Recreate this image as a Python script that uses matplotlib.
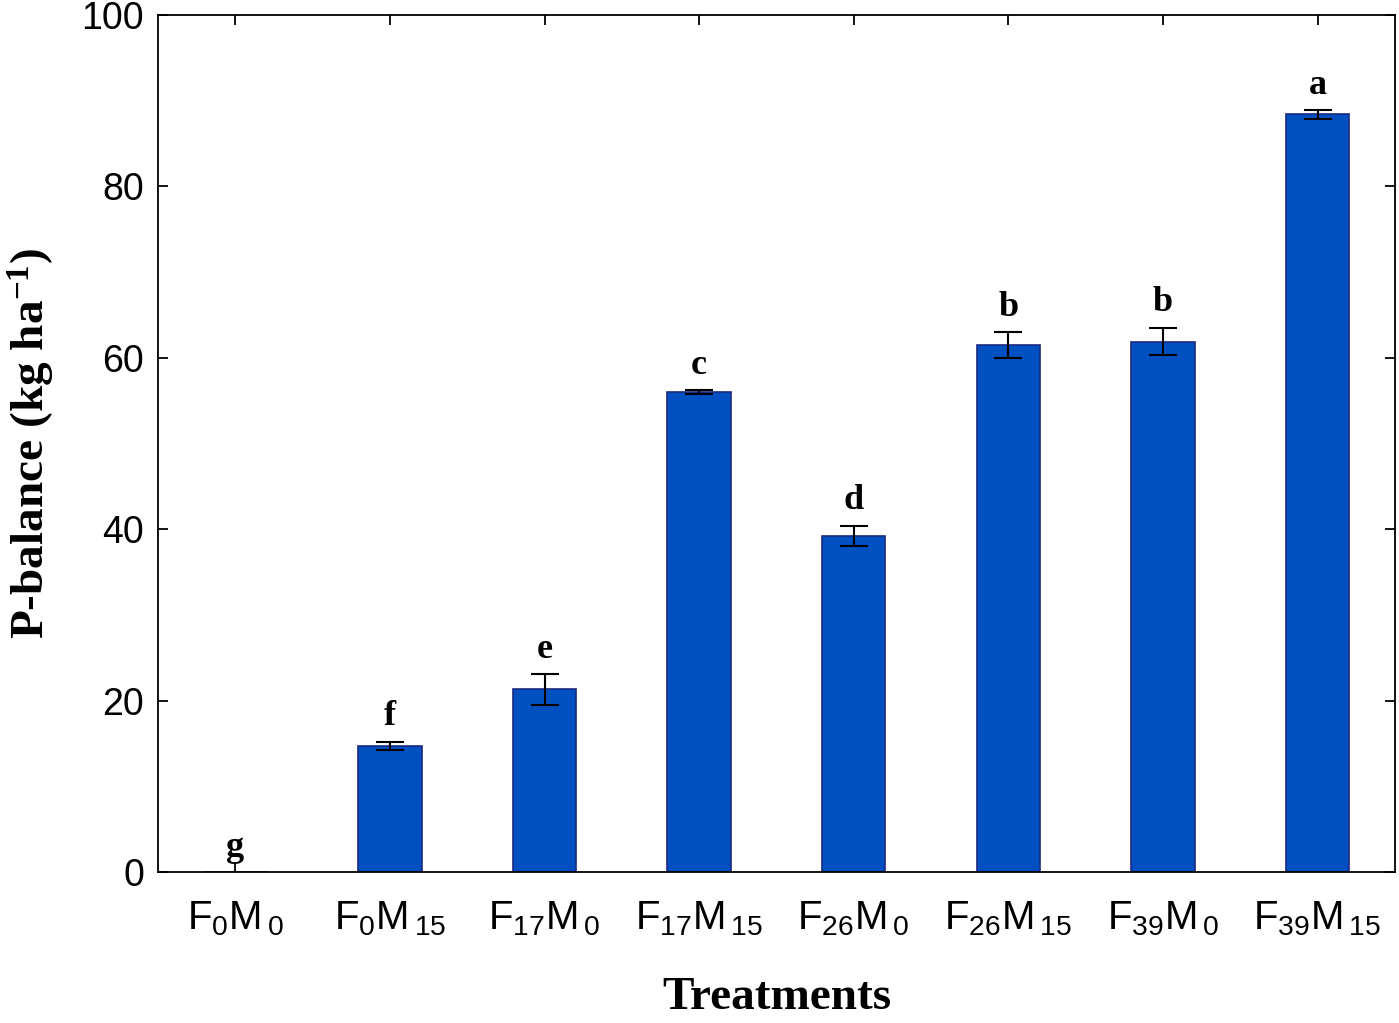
import matplotlib
matplotlib.use("Agg")
import matplotlib.pyplot as plt
import numpy as np

# ---- data ----
f_levels = ["0", "0", "17", "17", "26", "26", "39", "39"]
m_levels = ["0", "15", "0", "15", "0", "15", "0", "15"]
values = [0.0, 14.7, 21.3, 56.0, 39.2, 61.5, 61.9, 88.4]
errors = [0.0, 0.5, 1.8, 0.2, 1.2, 1.5, 1.6, 0.5]
letters = ["g", "f", "e", "c", "d", "b", "b", "a"]
y_ticks = [0, 20, 40, 60, 80, 100]

plt.rcParams["font.family"] = ["Liberation Sans", "DejaVu Sans"]
plt.rcParams["mathtext.fontset"] = "custom"
plt.rcParams["mathtext.default"] = "regular"
plt.rcParams["mathtext.rm"] = "Liberation Sans"

fig = plt.figure(figsize=(13.99, 10.23), dpi=100)
ax = fig.add_axes([0.113, 0.1476, 0.884, 0.8377])

x = np.arange(len(values))
labels = [r"F$_{%s}$M$_{\,%s}$" % (f, m) for f, m in zip(f_levels, m_levels)]

ax.bar(x, values, width=0.41, color="#0150C1", edgecolor="#1a2a80", linewidth=1.2, zorder=2)
err_idx = [i for i in range(len(values)) if errors[i] > 0]
ax.errorbar(x[err_idx], np.array(values)[err_idx], yerr=np.array(errors)[err_idx],
            fmt="none", ecolor="black", elinewidth=1.5, capsize=10, capthick=1.5, zorder=3)

for xi, v, e, lab in zip(x, values, errors, letters):
    ax.annotate(lab, xy=(xi, v + e), xytext=(0, 6), textcoords="offset points",
                ha="center", va="bottom", fontsize=26, fontweight="bold",
                fontfamily="Liberation Serif")

ax.set_xlim(-0.5, len(values) - 0.5)
ax.set_ylim(0, 100)
ax.set_yticks(y_ticks)
ax.set_xticks(x)
ax.set_xticklabels(labels)

ax.tick_params(axis="both", which="both", direction="in", top=True, right=True,
               length=7, width=1.3)
ax.tick_params(axis="y", pad=10, labelsize=27)
ax.tick_params(axis="x", pad=20, labelsize=29)
for s in ax.spines.values():
    s.set_linewidth(1.3)

ax.set_xlabel("Treatments", fontsize=34, fontweight="bold", fontfamily="Liberation Serif", labelpad=28)
ax.set_ylabel(r"P-balance (kg ha$^{-1}$)", fontsize=34, fontweight="bold",
              fontfamily="Liberation Serif", labelpad=18)

fig.savefig("out.png", dpi=100)
